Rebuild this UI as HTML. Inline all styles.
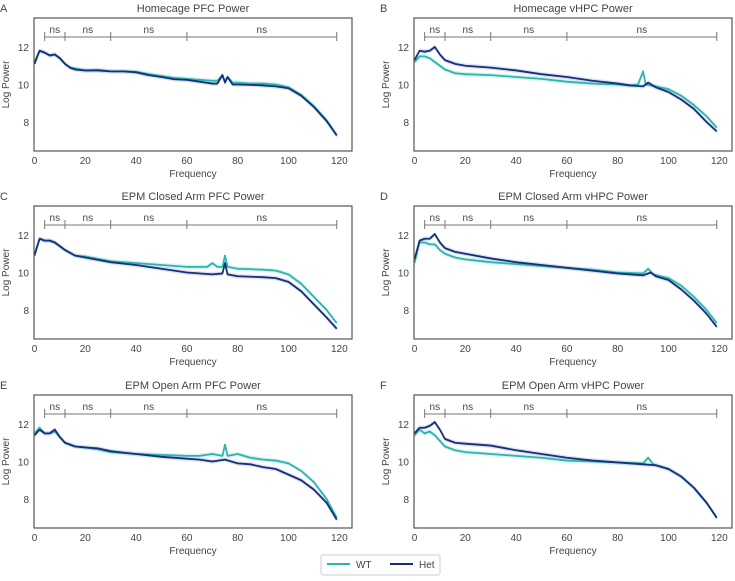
<!DOCTYPE html>
<html><head><meta charset="utf-8"><style>
body{margin:0;background:#fff;font-family:"Liberation Sans",sans-serif}
svg text{font-family:"Liberation Sans",sans-serif;fill:#444}
</style></head><body>
<svg id="c" width="735" height="576" xmlns="http://www.w3.org/2000/svg"></svg>
<script>
const titles=["Homecage PFC Power","Homecage vHPC Power","EPM Closed Arm PFC Power","EPM Closed Arm vHPC Power","EPM Open Arm PFC Power","EPM Open Arm vHPC Power"];
const letters=["A","B","C","D","E","F"];
const xTicks=[0,20,40,60,80,100,120];
const yTicks=[8,10,12];
const bracketEdges=[4,12,30,60,119];
const bracketLabels=["ns","ns","ns","ns"];
const wtA=[[0,11.2],[2,11.8],[4,11.7],[6,11.55],[8,11.6],[10,11.4],[12,11.1],[14,10.9],[16,10.85],[20,10.75],[25,10.78],[30,10.7],[35,10.7],[40,10.68],[45,10.55],[50,10.45],[55,10.35],[60,10.3],[65,10.25],[70,10.2],[72,10.2],[74,10.5],[75,10.15],[76,10.4],[78,10.1],[80,10.1],[85,10.05],[90,10.05],[95,10.0],[100,9.85],[105,9.45],[110,8.85],[115,8.1],[119,7.3]];
const hetA=[[0,11.1],[2,11.8],[4,11.7],[6,11.55],[8,11.6],[10,11.4],[12,11.1],[14,10.9],[16,10.8],[20,10.75],[25,10.75],[30,10.7],[35,10.7],[40,10.65],[45,10.5],[50,10.4],[55,10.28],[60,10.25],[65,10.15],[70,10.05],[72,10.05],[74,10.5],[75,10.1],[76,10.4],[78,10.0],[80,10.0],[85,9.98],[90,9.95],[95,9.9],[100,9.8],[105,9.4],[110,8.8],[115,8.05],[119,7.28]];
const wtB=[[0,11.2],[2,11.5],[4,11.5],[6,11.4],[8,11.2],[10,11.0],[12,10.8],[16,10.6],[20,10.55],[30,10.5],[40,10.4],[50,10.3],[60,10.15],[70,10.05],[80,10.0],[85,9.95],[88,10.0],[90,10.7],[91,10.0],[95,9.9],[100,9.75],[105,9.4],[110,8.9],[115,8.3],[119,7.7]];
const hetB=[[0,11.3],[2,11.8],[4,11.75],[6,11.8],[8,12.0],[10,11.6],[12,11.3],[16,11.1],[20,11.0],[30,10.9],[40,10.75],[50,10.55],[60,10.4],[70,10.2],[80,10.05],[85,9.95],[90,9.9],[92,10.1],[95,9.85],[100,9.6],[105,9.2],[110,8.7],[115,8.0],[119,7.5]];
const wtC=[[0,11.0],[2,11.8],[4,11.7],[6,11.7],[8,11.6],[10,11.4],[12,11.2],[16,10.9],[20,10.85],[30,10.6],[40,10.5],[50,10.4],[60,10.3],[65,10.3],[68,10.3],[70,10.5],[72,10.3],[74,10.3],[75,10.9],[76,10.3],[80,10.2],[90,10.15],[95,10.1],[100,9.9],[105,9.4],[110,8.7],[115,8.0],[119,7.3]];
const hetC=[[0,10.9],[2,11.8],[4,11.7],[6,11.7],[8,11.6],[10,11.4],[12,11.2],[16,10.9],[20,10.8],[30,10.55],[40,10.4],[50,10.2],[60,10.0],[70,9.9],[74,9.95],[75,10.5],[76,9.9],[80,9.8],[90,9.75],[95,9.7],[100,9.5],[105,9.0],[110,8.3],[115,7.6],[119,7.0]];
const wtD=[[0,10.5],[2,11.6],[4,11.6],[6,11.5],[8,11.5],[10,11.2],[12,11.0],[16,10.8],[20,10.7],[30,10.55],[40,10.45],[50,10.35],[60,10.25],[70,10.15],[80,10.0],[90,9.95],[92,10.2],[94,9.9],[100,9.7],[105,9.3],[110,8.7],[115,8.0],[119,7.3]];
const hetD=[[0,10.7],[2,11.7],[4,11.8],[6,11.8],[8,12.05],[10,11.6],[12,11.3],[16,11.1],[20,11.0],[30,10.75],[40,10.55],[50,10.4],[60,10.25],[70,10.1],[80,9.95],[90,9.85],[93,10.0],[95,9.8],[100,9.6],[105,9.1],[110,8.5],[115,7.8],[119,7.1]];
const wtE=[[0,11.5],[2,11.8],[4,11.5],[6,11.5],[8,11.6],[10,11.3],[12,11.0],[16,10.8],[20,10.75],[25,10.65],[30,10.5],[40,10.4],[50,10.35],[60,10.3],[65,10.3],[70,10.4],[74,10.3],[75,10.9],[76,10.3],[80,10.4],[85,10.2],[90,10.1],[95,10.05],[100,9.9],[105,9.5],[110,8.9],[115,8.0],[119,7.0]];
const hetE=[[0,11.4],[2,11.7],[4,11.5],[6,11.5],[8,11.7],[10,11.3],[12,11.0],[16,10.8],[20,10.75],[25,10.7],[30,10.55],[40,10.4],[50,10.25],[60,10.15],[65,10.1],[70,10.0],[75,10.1],[80,9.9],[85,9.85],[90,9.7],[95,9.6],[100,9.3],[105,9.0],[110,8.5],[115,7.8],[119,6.9]];
const wtF=[[0,11.4],[2,11.7],[4,11.5],[6,11.6],[8,11.4],[10,11.1],[12,10.8],[16,10.6],[20,10.5],[30,10.4],[40,10.3],[50,10.2],[60,10.05],[70,10.0],[80,9.95],[90,9.9],[92,10.2],[94,9.85],[100,9.6],[105,9.2],[110,8.6],[115,7.8],[119,7.0]];
const hetF=[[0,11.5],[2,11.8],[4,11.8],[6,11.9],[8,12.1],[10,11.7],[12,11.2],[16,11.0],[20,10.95],[30,10.85],[40,10.6],[50,10.4],[60,10.2],[70,10.05],[80,9.95],[90,9.85],[95,9.8],[100,9.6],[105,9.2],[110,8.6],[115,7.8],[119,7.0]];
const wtSeries=[wtA,wtB,wtC,wtD,wtE,wtF];
const hetSeries=[hetA,hetB,hetC,hetD,hetE,hetF];

const svg=document.getElementById('c');
const NS="http://www.w3.org/2000/svg";
function mk(t,a,p){const e=document.createElementNS(NS,t);for(const k in a)e.setAttribute(k,a[k]);(p||svg).appendChild(e);return e;}
const W=318,H=133,X0=34.5,PXU=2.54,Y12=29,PYU=18.75;
const WT="#2bb5ad",HET="#12317a";
for(let i=0;i<6;i++){
  const L=i%2?414:34, T=[18,206,395][Math.floor(i/2)];
  const g=mk('g',{});
  
  
  const sx=f=>L+0.5+f*PXU, sy=v=>T+Y12-(v-12)*PYU;
  const pl=mk('text',{x:L-34,y:T-6,'font-size':11},g);pl.textContent=letters[i];
  
  const tt=mk('text',{x:L+W/2,y:T-6,'font-size':11,'text-anchor':'middle'},g);tt.textContent=titles[i];
  
  xTicks.forEach(v=>{const t=mk('text',{x:sx(v),y:T+H+13,'font-size':10,'text-anchor':'middle'},g);t.textContent=v;
    });
  yTicks.forEach(v=>{const t=mk('text',{x:L-5,y:sy(v)+4,'font-size':10,'text-anchor':'end'},g);t.textContent=v;
    });
  const xl=mk('text',{x:L+W/2,y:T+H+26,'font-size':10,'text-anchor':'middle'},g);xl.textContent="Frequency";
  
  const yl=mk('text',{x:0,y:0,'font-size':10,'text-anchor':'middle',transform:`translate(${L-25},${T+H/2}) rotate(-90)`},g);yl.textContent="Log Power";
  
  // bracket
  const by=T+19;
  const bl=mk('line',{x1:sx(bracketEdges[0]),x2:sx(bracketEdges[bracketEdges.length-1]),y1:by,y2:by,stroke:'#777','stroke-width':1},g);
  
  bracketEdges.forEach(f=>{const t=mk('line',{x1:sx(f),x2:sx(f),y1:by-5,y2:by+4,stroke:'#777','stroke-width':1},g);
    });
  bracketLabels.forEach((s,k)=>{const t=mk('text',{x:(sx(bracketEdges[k])+sx(bracketEdges[k+1]))/2,y:by-4,'font-size':10,'text-anchor':'middle'},g);t.textContent=s;
    });
  [[wtSeries[i],WT,'#bfe9e6','wt'],[hetSeries[i],HET,'#c9cbe8','het']].forEach(([d,c,bc,n])=>{
    const up=d.map(p=>sx(p[0])+','+sy(p[1]+0.12)).join(' ');
    const dn=d.slice().reverse().map(p=>sx(p[0])+','+sy(p[1]-0.12)).join(' ');
    const b=mk('polygon',{points:up+' '+dn,fill:bc,opacity:0.6},g);
    
  });
  [[wtSeries[i],WT,'wt'],[hetSeries[i],HET,'het']].forEach(([d,c,n])=>{
    const l=mk('polyline',{points:d.map(p=>sx(p[0])+','+sy(p[1])).join(' '),fill:'none',stroke:c,'stroke-width':1.8,'stroke-linejoin':'round'},g);
    
  });
  const r=mk('rect',{x:L,y:T,width:W,height:H,fill:'none',stroke:'#555','stroke-width':1.2},g);
  
}
const lg=mk('g',{});

mk('rect',{x:321,y:555,width:119,height:20,fill:'#fff',stroke:'#ccc',rx:2},lg);
mk('line',{x1:327,x2:350,y1:564,y2:564,stroke:WT,'stroke-width':2},lg);
const t1=mk('text',{x:356,y:568,'font-size':10},lg);t1.textContent="WT";

mk('line',{x1:390,x2:413,y1:564,y2:564,stroke:HET,'stroke-width':2},lg);
const t2=mk('text',{x:419,y:568,'font-size':10},lg);t2.textContent="Het";

</script>
</body></html>
